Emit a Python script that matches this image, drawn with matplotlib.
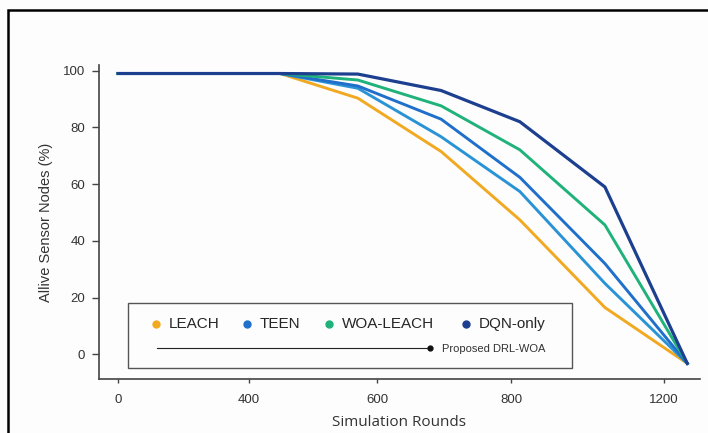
import matplotlib.pyplot as plt
from matplotlib.patches import Rectangle
from matplotlib.lines import Line2D

W, H = 708, 433

# rounds as drawn on the (unevenly labelled) x axis
rounds = [0, 356, 527, 710, 883, 1070, 1251]
tick_pos = [0, 288, 569, 864, 1200]
tick_labels = ['0', '400', '600', '800', '1200']
y_ticks = [0, 20, 40, 60, 80, 100]

# alive nodes (%)
leach = [99, 99, 90.3, 71.5, 47.4, 16.5, -3.2]
teen_alt = [99, 99, 93.8, 76.7, 57.4, 25, -3.2]
teen = [99, 99, 94.6, 82.9, 62.4, 32, -3.2]
woa_leach = [99, 99, 96.7, 87.6, 72.1, 45.6, -3.2]
dqn_only = [99, 99, 98.8, 93, 82, 59, -3.2]

c_leach = '#F2A922'
c_teen_alt = '#2A93D5'
c_teen = '#1F6FCB'
c_woa = '#1FB27A'
c_dqn = '#1C3F8F'

plt.rcParams['font.family'] = ['Liberation Sans', 'DejaVu Sans']

fig = plt.figure(figsize=(W / 100, H / 100), dpi=100, facecolor='#FDFDFD')


def fx(px):
    return px / W


def fy(py):
    return 1 - py / H


ax = fig.add_axes([fx(99), fy(379), fx(700) - fx(99), fy(65) - fy(379)])
ax.set_facecolor('#FDFDFD')

ax.plot(rounds, leach, color=c_leach, lw=2.1, solid_joinstyle='miter')
ax.plot(rounds, teen_alt, color=c_teen_alt, lw=2.1, solid_joinstyle='miter')
ax.plot(rounds, teen, color=c_teen, lw=2.1, solid_joinstyle='miter')
ax.plot(rounds, woa_leach, color=c_woa, lw=2.1, solid_joinstyle='miter')
ax.plot(rounds, dqn_only, color=c_dqn, lw=2.3, solid_joinstyle='miter')

ax.set_xlim(-42, 1279)
ax.set_ylim(-8.7, 102)
ax.set_xticks(tick_pos)
ax.set_xticklabels(tick_labels)
ax.set_yticks(y_ticks)

for s in ['top', 'right']:
    ax.spines[s].set_visible(False)
for s in ['left', 'bottom']:
    ax.spines[s].set_color('#444444')
    ax.spines[s].set_linewidth(1.2)

ax.tick_params(axis='x', direction='out', length=3, width=1, color='#444444',
               labelsize=9.5, labelcolor='#333333', pad=8)
ax.tick_params(axis='y', direction='out', length=5, width=1, color='#444444',
               labelsize=9.5, labelcolor='#333333', pad=5)

ax.set_xlabel('Simulation Rounds', fontsize=11, family=['Open Sans', 'DejaVu Sans'],
              color='#333333', labelpad=6)
ax.set_ylabel('Allive Sensor Nodes (%)', fontsize=10.5, color='#333333', labelpad=7)

# legend box, drawn by hand
fig.add_artist(Rectangle((fx(128), fy(368)), fx(572) - fx(128), fy(303) - fy(368),
                         transform=fig.transFigure, fill=True, fc='#FDFDFD',
                         ec='#555555', lw=1.0))
entries = [(156, c_leach, 'LEACH'), (247, c_teen, 'TEEN'),
           (329, c_woa, 'WOA-LEACH'), (466, c_dqn, 'DQN-only')]
for px, col, lab in entries:
    fig.add_artist(Line2D([fx(px)], [fy(324)], transform=fig.transFigure,
                          marker='o', ms=5, color=col, ls='none'))
    fig.text(fx(px + 13), fy(324), lab, fontsize=11, color='#262626', va='center')

fig.add_artist(Line2D([fx(157), fx(430)], [fy(348), fy(348)], transform=fig.transFigure,
                      color='#222222', lw=0.8))
fig.add_artist(Line2D([fx(430)], [fy(348)], transform=fig.transFigure,
                      marker='o', ms=3.5, color='#111111', ls='none'))
fig.text(fx(442), fy(349), 'Proposed DRL-WOA', fontsize=8, color='#333333', va='center')

# outer frame of the figure (cut off at right and bottom)
fig.add_artist(Rectangle((fx(8), -0.2), 1.5, fy(10) + 0.2, transform=fig.transFigure,
                         fill=False, ec='black', lw=1.8))

fig.savefig('out.png', dpi=100, facecolor=fig.get_facecolor())
